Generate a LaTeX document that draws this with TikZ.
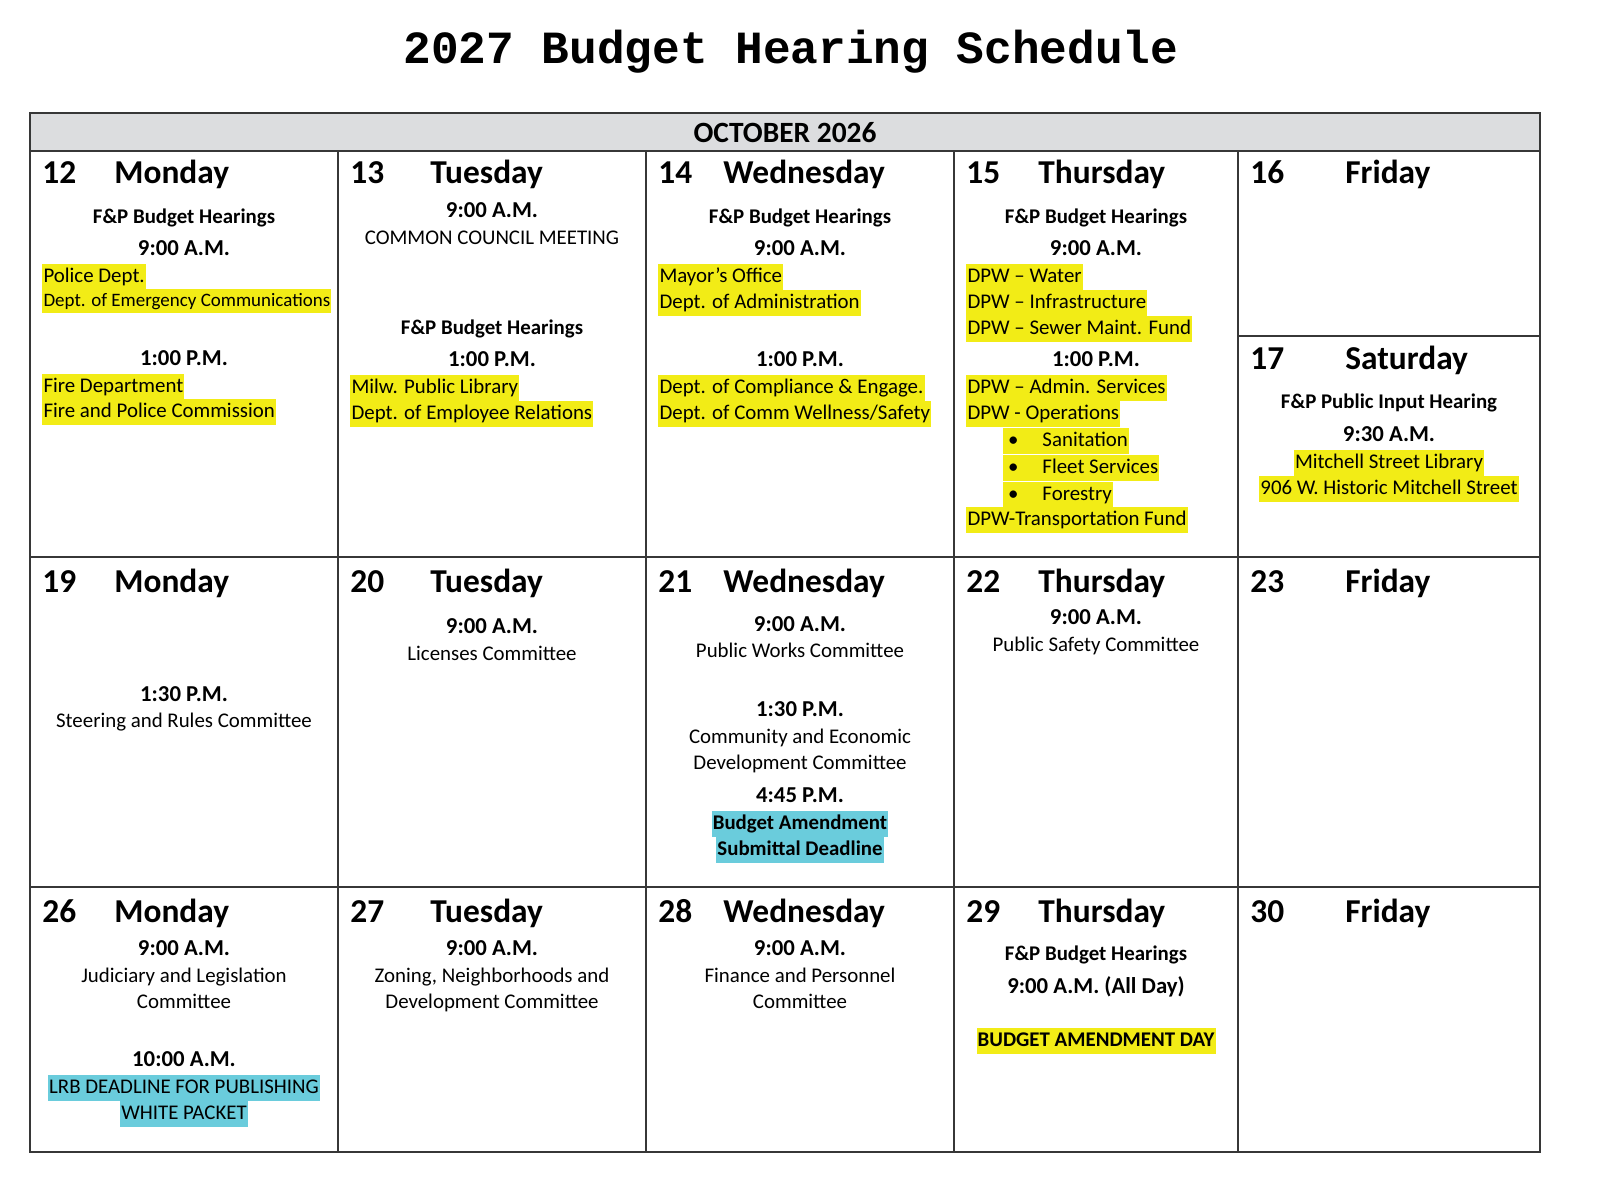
\documentclass[tikz,border=0pt]{standalone}
\usepackage{fontspec}
\setmainfont{Carlito}
\newfontfamily\titlefont{Liberation Mono}
\definecolor{hlyellow}{RGB}{242,236,22}
\definecolor{hlblue}{RGB}{106,204,220}
\definecolor{headgrey}{RGB}{220,221,223}
\definecolor{rulegrey}{RGB}{55,55,55}
\tikzset{
  txt/.style={inner sep=0pt, text height=9.8pt, text depth=3.7pt, font=\fontsize{11}{13}\selectfont},
  small/.style={txt, text height=9pt, text depth=3.4pt, font=\fontsize{10}{12}\selectfont},
  hear/.style={txt, font=\fontsize{11}{13}\selectfont\bfseries},
  slot/.style={txt, font=\fontsize{12}{14}\selectfont\bfseries},
  dnum/.style={anchor=base west, inner sep=0pt, font=\fontsize{17.6}{21}\selectfont\bfseries},
  yel/.style={fill=hlyellow, inner xsep=0.6pt},
  blu/.style={fill=hlblue, inner xsep=0.6pt},
  rule/.style={draw=rulegrey, line width=0.9pt},
}
\begin{document}
\begin{tikzpicture}[x=0.527pt,y=0.527pt,yscale=-1,xscale=1]
\useasboundingbox (0,0) rectangle (1605,1199);

% Title
\draw (791,64) node [anchor=base, inner sep=0pt, font=\titlefont\fontsize{24.3}{28}\selectfont\bfseries] (title) {2027 Budget Hearing Schedule};

%Shape: Rectangle (month band)
\draw [rule, fill=headgrey] (30,113) rectangle (1540,151);
\draw (785,132) node [txt, font=\fontsize{15.5}{18}\selectfont\bfseries, text height=10.8pt, text depth=0pt] (month) {OCTOBER 2026};
%Shape: Rectangle (weeks)
\draw [rule] (30,151) rectangle (1540,1152);
%Straight Lines
\draw [rule] (338,151) -- (338,1152);
\draw [rule] (646,151) -- (646,1152);
\draw [rule] (954,151) -- (954,1152);
\draw [rule] (1238,151) -- (1238,1152);
\draw [rule] (30,557) -- (1540,557);
\draw [rule] (30,887) -- (1540,887);
\draw [rule] (1238,336) -- (1540,336);

% Day headers, week 1
\draw (42,184) node [dnum] (d12) {12};
\draw (114,184) node [dnum] (n12) {Monday};
\draw (350,184) node [dnum] (d13) {13};
\draw (430,184) node [dnum] (n13) {Tuesday};
\draw (658,184) node [dnum] (d14) {14};
\draw (723,184) node [dnum] (n14) {Wednesday};
\draw (966,184) node [dnum] (d15) {15};
\draw (1038,184) node [dnum] (n15) {Thursday};
\draw (1250,184) node [dnum] (d16) {16};
\draw (1345,184) node [dnum] (n16) {Friday};
\draw (1250,370) node [dnum] (d17) {17};
\draw (1345,370) node [dnum] (n17) {Saturday};
% Day headers, week 2
\draw (42,592) node [dnum] (d19) {19};
\draw (114,592) node [dnum] (n19) {Monday};
\draw (350,592) node [dnum] (d20) {20};
\draw (430,592) node [dnum] (n20) {Tuesday};
\draw (658,592) node [dnum] (d21) {21};
\draw (723,592) node [dnum] (n21) {Wednesday};
\draw (966,592) node [dnum] (d22) {22};
\draw (1038,592) node [dnum] (n22) {Thursday};
\draw (1250,592) node [dnum] (d23) {23};
\draw (1345,592) node [dnum] (n23) {Friday};
% Day headers, week 3
\draw (42,922) node [dnum] (d26) {26};
\draw (114,922) node [dnum] (n26) {Monday};
\draw (350,922) node [dnum] (d27) {27};
\draw (430,922) node [dnum] (n27) {Tuesday};
\draw (658,922) node [dnum] (d28) {28};
\draw (723,922) node [dnum] (n28) {Wednesday};
\draw (966,922) node [dnum] (d29) {29};
\draw (1038,922) node [dnum] (n29) {Thursday};
\draw (1250,922) node [dnum] (d30) {30};
\draw (1345,922) node [dnum] (n30) {Friday};

% Text Node (12)
\draw (184,218) node [hear] (h12) {F\&P Budget Hearings};
\draw (184,250) node [slot] (t12a) {9:00 A.M.};
\draw (42,277) node [txt, yel, anchor=west] (i12a) {Police Dept.};
\draw (42,301) node [small, yel, anchor=west] (i12b) {Dept. of Emergency Communications};
\draw (184,360) node [slot] (t12b) {1:00 P.M.};
\draw (42,387) node [txt, yel, anchor=west] (i12c) {Fire Department};
\draw (42,412) node [txt, yel, anchor=west] (i12d) {Fire and Police Commission};

% Text Node (13)
\draw (492,212) node [slot] (t13a) {9:00 A.M.};
\draw (492,239) node [txt] (i13a) {COMMON COUNCIL MEETING};
\draw (492,329) node [hear] (h13) {F\&P Budget Hearings};
\draw (492,361) node [slot] (t13b) {1:00 P.M.};
\draw (350,388) node [txt, yel, anchor=west] (i13b) {Milw. Public Library};
\draw (350,414) node [txt, yel, anchor=west] (i13c) {Dept. of Employee Relations};

% Text Node (14)
\draw (800,218) node [hear] (h14) {F\&P Budget Hearings};
\draw (800,250) node [slot] (t14a) {9:00 A.M.};
\draw (658,277) node [txt, yel, anchor=west] (i14a) {Mayor’s Office};
\draw (658,303) node [txt, yel, anchor=west] (i14b) {Dept. of Administration};
\draw (800,361) node [slot] (t14b) {1:00 P.M.};
\draw (658,388) node [txt, yel, anchor=west] (i14c) {Dept. of Compliance \& Engage.};
\draw (658,414) node [txt, yel, anchor=west] (i14d) {Dept. of Comm Wellness/Safety};

% Text Node (15)
\draw (1096,218) node [hear] (h15) {F\&P Budget Hearings};
\draw (1096,250) node [slot] (t15a) {9:00 A.M.};
\draw (966,277) node [txt, yel, anchor=west] (i15a) {DPW – Water};
\draw (966,303) node [txt, yel, anchor=west] (i15b) {DPW – Infrastructure};
\draw (966,329) node [txt, yel, anchor=west] (i15c) {DPW – Sewer Maint. Fund};
\draw (1096,361) node [slot] (t15b) {1:00 P.M.};
\draw (966,388) node [txt, yel, anchor=west] (i15d) {DPW – Admin. Services};
\draw (966,414) node [txt, yel, anchor=west] (i15e) {DPW - Operations};
\draw (1003,441) node [txt, yel, anchor=west] (i15f) {\makebox[20pt][l]{\,•}Sanitation};
\draw (1003,468) node [txt, yel, anchor=west] (i15g) {\makebox[20pt][l]{\,•}Fleet Services};
\draw (1003,495) node [txt, yel, anchor=west] (i15h) {\makebox[20pt][l]{\,•}Forestry};
\draw (966,520) node [txt, yel, anchor=west] (i15i) {DPW-Transportation Fund};

% Text Node (17)
\draw (1389,403) node [hear] (h17) {F\&P Public Input Hearing};
\draw (1389,436) node [slot] (t17) {9:30 A.M.};
\draw (1389,463) node [txt, yel] (i17a) {Mitchell Street Library};
\draw (1389,489) node [txt, yel] (i17b) {906 W. Historic Mitchell Street};

% Text Node (19)
\draw (184,696) node [slot] (t19) {1:30 P.M.};
\draw (184,722) node [txt] (i19) {Steering and Rules Committee};

% Text Node (20)
\draw (492,628) node [slot] (t20) {9:00 A.M.};
\draw (492,655) node [txt] (i20) {Licenses Committee};

% Text Node (21)
\draw (800,626) node [slot] (t21a) {9:00 A.M.};
\draw (800,652) node [txt] (i21a) {Public Works Committee};
\draw (800,711) node [slot] (t21b) {1:30 P.M.};
\draw (800,738) node [txt] (i21b) {Community and Economic};
\draw (800,764) node [txt] (i21c) {Development Committee};
\draw (800,797) node [slot] (t21c) {4:45 P.M.};
\draw (800,824) node [hear, blu] (i21d) {Budget Amendment};
\draw (800,850) node [hear, blu] (i21e) {Submittal Deadline};

% Text Node (22)
\draw (1096,619) node [slot] (t22) {9:00 A.M.};
\draw (1096,646) node [txt] (i22) {Public Safety Committee};

% Text Node (26)
\draw (184,950) node [slot] (t26a) {9:00 A.M.};
\draw (184,977) node [txt] (i26a) {Judiciary and Legislation};
\draw (184,1003) node [txt] (i26b) {Committee};
\draw (184,1061) node [slot] (t26b) {10:00 A.M.};
\draw (184,1088) node [txt, blu] (i26c) {LRB DEADLINE FOR PUBLISHING};
\draw (184,1114) node [txt, blu] (i26d) {WHITE PACKET};

% Text Node (27)
\draw (492,950) node [slot] (t27) {9:00 A.M.};
\draw (492,977) node [txt] (i27a) {Zoning, Neighborhoods and};
\draw (492,1003) node [txt] (i27b) {Development Committee};

% Text Node (28)
\draw (800,950) node [slot] (t28) {9:00 A.M.};
\draw (800,977) node [txt] (i28a) {Finance and Personnel};
\draw (800,1003) node [txt] (i28b) {Committee};

% Text Node (29)
\draw (1096,955) node [hear] (h29) {F\&P Budget Hearings};
\draw (1096,988) node [slot] (t29) {9:00 A.M. (All Day)};
\draw (1096,1041) node [hear, yel] (i29) {BUDGET AMENDMENT DAY};

\end{tikzpicture}
\end{document}
